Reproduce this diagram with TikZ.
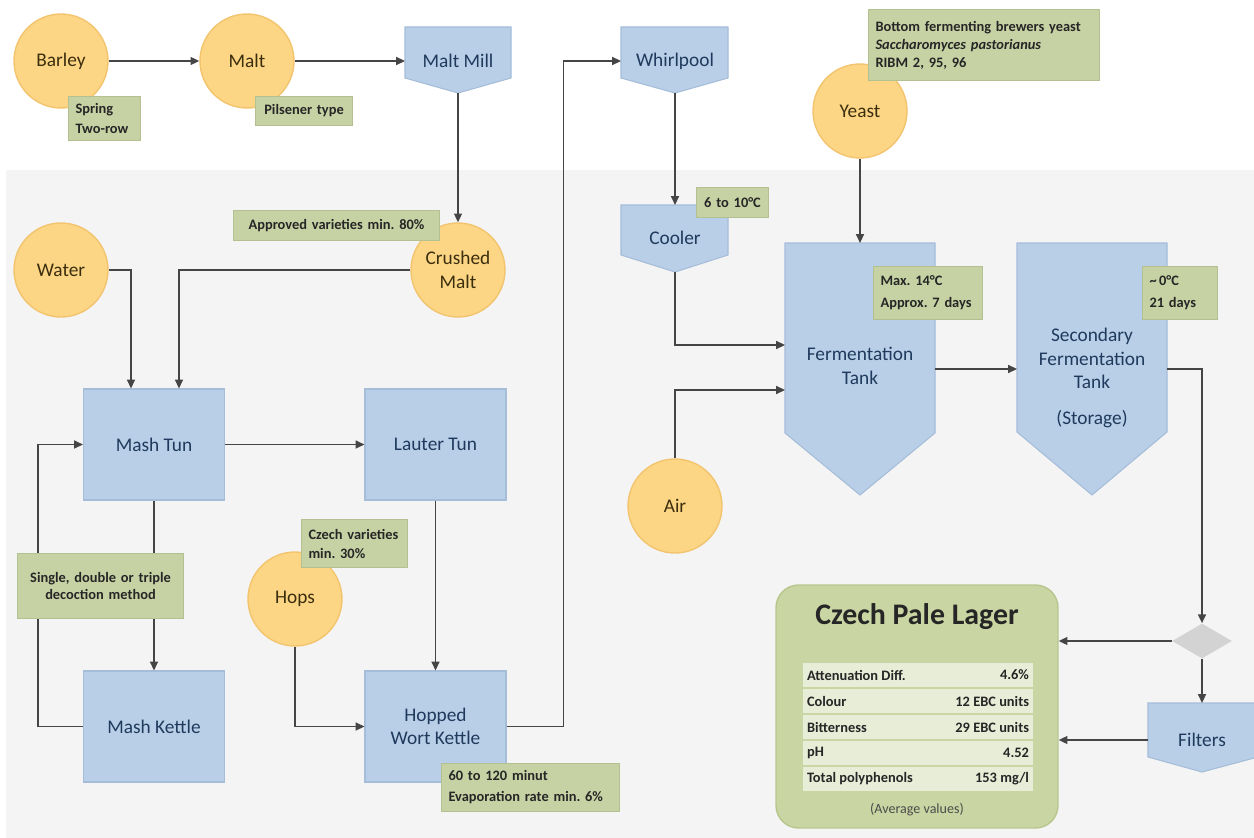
\documentclass[tikz,border=0pt]{standalone}
\usepackage{fontspec}
\setmainfont{Carlito}
\usepackage{tikz}
\usetikzlibrary{arrows.meta}
\usetikzlibrary{shapes.geometric}
\frenchspacing

\definecolor{ingrfill}{HTML}{FDD685}
\definecolor{ingrline}{HTML}{F3C46E}
\definecolor{ingrtext}{HTML}{3B2E0E}
\definecolor{vesselfill}{HTML}{B9CFE8}
\definecolor{vesselline}{HTML}{A5BDD9}
\definecolor{vesseltext}{HTML}{1F3A5C}
\definecolor{notefill}{HTML}{C7D2A4}
\definecolor{noteline}{HTML}{B4C08F}
\definecolor{lagerfill}{HTML}{C9D5A2}
\definecolor{lagerline}{HTML}{B8C68D}
\definecolor{rowfill}{HTML}{E8EDD7}
\definecolor{flowline}{HTML}{454545}
\definecolor{bggray}{HTML}{F4F4F4}
\definecolor{splitfill}{HTML}{D3D3D3}

\tikzset{
  ingr/.style={circle, draw=ingrline, fill=ingrfill, line width=0.8pt, minimum size=1.88cm,
    inner sep=0pt, text=ingrtext, align=center, font=\fontsize{11}{13.3}\selectfont},
  vessel/.style={rectangle, draw=vesselline, fill=vesselfill, line width=0.6pt, minimum width=2.82cm,
    minimum height=2.22cm, inner sep=0pt, text=vesseltext, align=center, font=\fontsize{11}{13.3}\selectfont},
  vesselshape/.style={draw=vesselline, fill=vesselfill, line width=0.6pt},
  vlabel/.style={text=vesseltext, align=center, inner sep=0pt, font=\fontsize{11}{13.3}\selectfont},
  note/.style={rectangle, anchor=north west, draw=noteline, fill=notefill, line width=0.6pt,
    inner xsep=0.14cm, inner ysep=0pt, text=black!85, font=\fontsize{8.2}{11}\selectfont\bfseries},
  flow/.style={draw=flowline, line width=0.9pt, -{Triangle[length=5pt,width=4.5pt]}},
  lagerrow/.style={rectangle, fill=rowfill, minimum width=4.6cm, minimum height=0.48cm, inner sep=0pt},
  rowkey/.style={anchor=west, inner xsep=0.08cm, text=black!85, font=\fontsize{8.2}{10}\selectfont\bfseries},
  rowval/.style={anchor=east, inner xsep=0.08cm, text=black!85, font=\fontsize{8.2}{10}\selectfont\bfseries},
}

\begin{document}
\begin{tikzpicture}[x=0.02cm, y=-0.02cm]
		\useasboundingbox (0,0) rectangle (1254,838);
		\fill[white] (0,0) rectangle (1254,838);
		\fill[bggray] (6,170) rectangle (1254,838);

		% ingredients
		\node[ingr] (barley) at (61,61) {Barley};
		\node[ingr] (malt) at (247,61) {Malt};
		\node[ingr] (crushed) at (458,270) {Crushed\\Malt};
		\node[ingr] (water) at (61,270) {Water};
		\node[ingr] (hops) at (295,599) {Hops};
		\node[ingr] (yeast) at (860,111) {Yeast};
		\node[ingr] (air) at (675,506) {Air};

		% brewhouse vessels
		\node[vessel] (mashtun) at (154,444.5) {Mash Tun};
		\node[vessel] (lauter) at (435.5,444.5) {Lauter Tun};
		\node[vessel] (mashkettle) at (154,726.5) {Mash Kettle};
		\node[vessel] (hopped) at (435.5,726.5) {Hopped\\Wort Kettle};

		% pointed vessels
		\draw[vesselshape] (405,27) -- (511,27) -- (511,78) -- (458,93) -- (405,78) -- cycle;
		\node[vlabel] (mill) at (458,61) {Malt Mill};
		\coordinate (mill-w) at (405,61);
		\coordinate (mill-s) at (458,93);

		\draw[vesselshape] (621,27) -- (728,27) -- (728,78) -- (675,93) -- (621,78) -- cycle;
		\node[vlabel] (whirl) at (675,61) {Whirlpool};
		\coordinate (whirl-w) at (621,61);
		\coordinate (whirl-s) at (675,93);

		\draw[vesselshape] (621,205) -- (728,205) -- (728,255) -- (675,272) -- (621,255) -- cycle;
		\node[vlabel] (cooler) at (675,238) {Cooler};
		\coordinate (cooler-n) at (675,205);
		\coordinate (cooler-s) at (675,272);

		\draw[vesselshape] (785,243) -- (935,243) -- (935,433) -- (860,495) -- (785,433) -- cycle;
		\node[vlabel] (ferm) at (860,366) {Fermentation\\Tank};
		\coordinate (ferm-n) at (860,243);
		\coordinate (ferm-w1) at (785,345);
		\coordinate (ferm-w2) at (785,390);
		\coordinate (ferm-e) at (935,369);

		\draw[vesselshape] (1017,243) -- (1167,243) -- (1167,432) -- (1092,495) -- (1017,432) -- cycle;
		\node[vlabel] (secondary) at (1092,378) {Secondary\\Fermentation\\Tank\\[7pt](Storage)};
		\coordinate (sec-w) at (1017,369);
		\coordinate (sec-e) at (1167,369);

		\draw[vesselshape] (1148,703) -- (1258,703) -- (1258,757) -- (1202,772) -- (1148,757) -- cycle;
		\node[vlabel] (filters) at (1202,740) {Filters};
		\coordinate (filters-n) at (1202,703);
		\coordinate (filters-w) at (1148,740);

		\node[diamond, fill=splitfill, minimum width=1.2cm, minimum height=0.7cm, inner sep=0pt] (split) at (1202,641) {};

		% product
		\node[rectangle, rounded corners=0.45cm, draw=lagerline, fill=lagerfill, line width=0.8pt,
			minimum width=5.64cm, minimum height=4.86cm] (lager) at (917,706.5) {};
		\node[text=black!85, font=\fontsize{17}{20}\selectfont\bfseries] (lagertitle) at (917,617) {Czech Pale Lager};
		\node[lagerrow] (row1) at (918,675) {};
		\node[rowkey] (key1) at (row1.west) {Attenuation Diff.};
		\node[rowval] (val1) at (row1.east) {4.6\%};
		\node[lagerrow] (row2) at (918,701) {};
		\node[rowkey] (key2) at (row2.west) {Colour};
		\node[rowval] (val2) at (row2.east) {12 EBC units};
		\node[lagerrow] (row3) at (918,727) {};
		\node[rowkey] (key3) at (row3.west) {Bitterness};
		\node[rowval] (val3) at (row3.east) {29 EBC units};
		\node[lagerrow] (row4) at (918,753) {};
		\node[rowkey] (key4) at (row4.west) {pH};
		\node[rowval] (val4) at (row4.east) {4.52};
		\node[lagerrow] (row5) at (918,779) {};
		\node[rowkey] (key5) at (row5.west) {Total polyphenols};
		\node[rowval] (val5) at (row5.east) {153 mg/l};
		\node[text=black!70, font=\fontsize{8}{10}\selectfont] (avg) at (917,810) {(Average values)};

		% flow
		\draw[flow] (barley) -- (malt);
		\draw[flow] (malt) -- (mill-w);
		\draw[flow] (mill-s) -- (crushed);
		\draw[flow] (crushed.west) -| ([xshift=0.5cm]mashtun.north);
		\draw[flow] (water.east) -| ([xshift=-0.46cm]mashtun.north);
		\draw[flow] (mashtun) -- (lauter);
		\draw[flow] (mashtun) -- (mashkettle);
		\draw[flow] (mashkettle.west) -- ++(-45,0) |- (mashtun.west);
		\draw[flow] (lauter) -- (hopped);
		\draw[flow] (hops.south) |- (hopped.west);
		\draw[flow] (hopped.east) -- ++(57,0) |- (whirl-w);
		\draw[flow] (whirl-s) -- (cooler-n);
		\draw[flow] (cooler-s) |- (ferm-w1);
		\draw[flow] (air.north) |- (ferm-w2);
		\draw[flow] (yeast) -- (ferm-n);
		\draw[flow] (ferm-e) -- (sec-w);
		\draw[flow] (sec-e) -| (split.north);
		\draw[flow] (split.west) -- (split.west -| lager.east);
		\draw[flow] (split) -- (filters-n);
		\draw[flow] (filters-w) -- (filters-w -| lager.east);

		% notes
		\node[note, text width=1.16cm, minimum height=0.88cm, align=left] (springnote) at (68,96) {Spring\\Two-row};
		\node[note, text width=1.66cm, minimum height=0.58cm, align=center] (pilsnote) at (255,96) {Pilsener type};
		\node[note, text width=3.84cm, minimum height=0.6cm, align=center] (approvednote) at (233,210) {Approved varieties min. 80\%};
		\node[note, text width=1.16cm, minimum height=0.6cm, align=center] (coolnote) at (696,187) {6 to 10°C};
		\node[note, text width=4.34cm, minimum height=1.42cm, align=left,
			font=\fontsize{8.2}{10.2}\selectfont\bfseries] (yeastnote) at (868,9)
			{Bottom fermenting brewers yeast\\\textit{Saccharomyces pastorianus}\\RIBM 2, 95, 96};
		\node[note, text width=1.9cm, minimum height=1.06cm, align=left,
			font=\fontsize{8.2}{12.5}\selectfont\bfseries] (fermnote) at (873,266) {Max. 14°C\\Approx. 7 days};
		\node[note, text width=1.22cm, minimum height=1.06cm, align=left,
			font=\fontsize{8.2}{12.5}\selectfont\bfseries] (secnote) at (1142,266) {\textasciitilde\,0°C\\21 days};
		\node[note, text width=3.04cm, minimum height=1.3cm, align=center,
			font=\fontsize{8.2}{10.2}\selectfont\bfseries] (decoctnote) at (17,553) {Single, double or triple\\decoction method};
		\node[note, text width=1.84cm, minimum height=0.96cm, align=left,
			font=\fontsize{8.2}{10.8}\selectfont\bfseries] (hopsnote) at (301,519) {Czech varieties\\min. 30\%};
		\node[note, text width=3.28cm, minimum height=0.96cm, align=left,
			font=\fontsize{8.2}{11.9}\selectfont\bfseries] (boilnote) at (441,763) {60 to 120 minut\\Evaporation rate min. 6\%};
	\end{tikzpicture}
\end{document}
